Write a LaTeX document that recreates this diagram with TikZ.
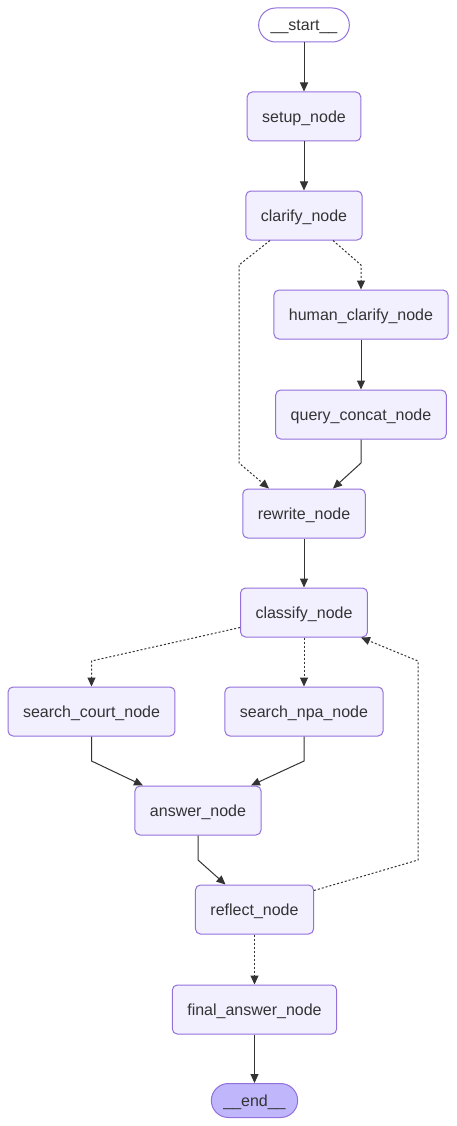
\documentclass[tikz,border=0pt]{standalone}
\usepackage{fontspec}
\setmainfont{Liberation Sans}
\usetikzlibrary{arrows.meta,calc}
\definecolor{nodefill}{HTML}{F2F0FF}
\definecolor{nodeline}{HTML}{9370DB}
\definecolor{endfill}{HTML}{BFB6FC}
\definecolor{txt}{HTML}{333333}
\definecolor{edge}{HTML}{333333}
\tikzset{
  box/.style={draw=nodeline, fill=nodefill, line width=1pt, rounded corners=5pt,
    minimum height=49pt, inner xsep=15pt, inner ysep=0pt, text=txt,
    font=\fontsize{16}{19}\selectfont, text height=14pt, text depth=2pt},
  term/.style={box, rounded corners=17pt, minimum height=34pt, inner xsep=12pt},
  solidedge/.style={draw=edge, line width=1pt, -{Triangle[length=9pt,width=8pt]}},
  dotedge/.style={solidedge, dash pattern=on 2pt off 2pt},
}
\begin{document}
\begin{tikzpicture}[x=1pt,y=-1pt]
\fill[white] (0,0) rectangle (456,1126);
\useasboundingbox (0,0) rectangle (456,1126);
\node[term, fill=white] (start) at (304,25) {\_\_start\_\_};
\node[box] (setup) at (304,116.5) {setup\_node};
\node[box] (clarify) at (304,215.5) {clarify\_node};
\node[box] (human) at (361,314.5) {human\_clarify\_node};
\node[box] (concat) at (361,414.5) {query\_concat\_node};
\node[box] (rewrite) at (304,513.5) {rewrite\_node};
\node[box] (classify) at (304,612.5) {classify\_node};
\node[box] (court) at (91.5,711.5) {search\_court\_node};
\node[box] (npa) at (304,711.5) {search\_npa\_node};
\node[box] (answer) at (198,810.5) {answer\_node};
\node[box] (reflect) at (254.5,909.5) {reflect\_node};
\node[box] (final) at (254.5,1009.5) {final\_answer\_node};
\node[term, fill=endfill] (end) at (254.5,1100.5) {\_\_end\_\_};

\coordinate (b1) at (361,265);
\coordinate (b2a) at (239,265);
\coordinate (b2b) at (239,463);
\coordinate (b3) at (361,463);
\coordinate (b4) at (91.5,661);
\coordinate (b5) at (91.5,761);
\coordinate (b6) at (304,761);
\coordinate (b7) at (198,860);
\coordinate (b8a) at (418,860);
\coordinate (b8b) at (418,661);

\draw[solidedge] (start) -- (setup);
\draw[solidedge] (setup) -- (clarify);
\draw[dotedge] ([xshift=29pt]clarify.south) -- (b1) -- (human.north);
\draw[dotedge] ([xshift=-34pt]clarify.south) -- (b2a) -- (b2b) -- ([xshift=-35pt]rewrite.north);
\draw[solidedge] (human) -- (concat);
\draw[solidedge] (concat.south) -- (b3) -- ([xshift=29pt]rewrite.north);
\draw[solidedge] (rewrite) -- (classify);
\draw[dotedge] ([yshift=10pt]classify.south west) -- (b4) -- (court.north);
\draw[dotedge] (classify.south) -- (npa.north);
\draw[solidedge] (court.south) -- (b5) -- ([xshift=-55pt]answer.north);
\draw[solidedge] (npa.south) -- (b6) -- ([xshift=53pt]answer.north);
\draw[solidedge] (answer.south) -- (b7) -- ([xshift=-29pt]reflect.north);
\draw[dotedge] ([yshift=-6pt]reflect.north east) -- (b8a) -- (b8b) -- ([xshift=57pt]classify.south);
\draw[dotedge] (reflect.south) -- (final.north);
\draw[solidedge] (final.south) -- (end.north);
\end{tikzpicture}
\end{document}
